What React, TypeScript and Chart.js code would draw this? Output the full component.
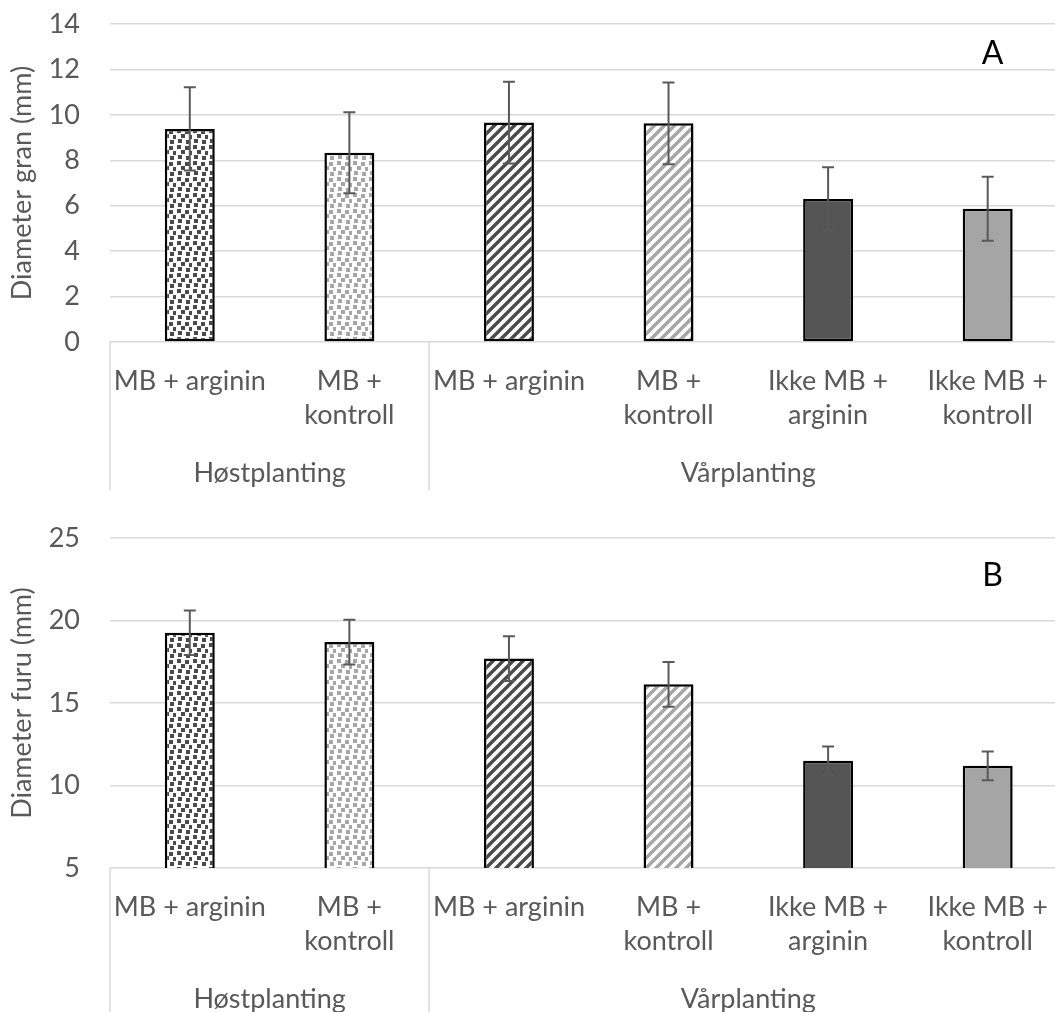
import React, { useEffect, useRef } from "react";
import { Chart, registerables } from "chart.js";

Chart.register(...registerables);

// ---- data ----
const categories: string[][] = [
  ["MB + arginin"],
  ["MB +", "kontroll"],
  ["MB + arginin"],
  ["MB +", "kontroll"],
  ["Ikke MB +", "arginin"],
  ["Ikke MB +", "kontroll"],
];
const groupLabels = ["Høstplanting", "Vårplanting"];
const groupSizes = [2, 4];

const granMeans = [9.38, 8.33, 9.66, 9.63, 6.3, 5.87];
const granErrors = [1.83, 1.78, 1.8, 1.8, 1.39, 1.41];
const granTicks = { min: 0, max: 14, step: 2 };

const furuMeans = [19.26, 18.69, 17.69, 16.13, 11.5, 11.19];
const furuErrors = [1.35, 1.36, 1.35, 1.35, 0.86, 0.87];
const furuTicks = { min: 5, max: 25, step: 5 };

// ---- styles ----
const FONT_FAMILY = "Lato, 'Open Sans', sans-serif";
const FONT_SIZE = 27;
const TEXT_COLOR = "#595959";
const GRID_COLOR = "#d9d9d9";

const confettiDots: [number, number][] = [
  [1, 1], [9, 2], [5, 6], [13, 7], [2, 11], [10, 12],
];

function makeConfetti(ctx: CanvasRenderingContext2D, color: string) {
  const c = document.createElement("canvas");
  c.width = 16;
  c.height = 16;
  const g = c.getContext("2d")!;
  g.fillStyle = "#ffffff";
  g.fillRect(0, 0, 16, 16);
  g.fillStyle = color;
  for (const [x, y] of confettiDots) g.fillRect(x, y, 4, 4);
  return ctx.createPattern(c, "repeat")!;
}

function makeStripes(ctx: CanvasRenderingContext2D, color: string) {
  const s = 10;
  const c = document.createElement("canvas");
  c.width = s;
  c.height = s;
  const g = c.getContext("2d")!;
  g.fillStyle = "#ffffff";
  g.fillRect(0, 0, s, s);
  g.strokeStyle = color;
  g.lineWidth = 3.4;
  g.beginPath();
  g.moveTo(-2, s + 2);
  g.lineTo(s + 2, -2);
  g.moveTo(-2, 2);
  g.lineTo(2, -2);
  g.moveTo(s - 2, s + 2);
  g.lineTo(s + 2, s - 2);
  g.stroke();
  return ctx.createPattern(c, "repeat")!;
}

const errorBarPlugin = {
  id: "errorBars",
  afterDatasetsDraw(chart: any, _args: any, opts: any) {
    const errors: number[] = opts.errors || [];
    const y = chart.scales.y;
    const meta = chart.getDatasetMeta(0);
    const ds = chart.data.datasets[0];
    const ctx = chart.ctx;
    ctx.save();
    ctx.strokeStyle = "#595959";
    ctx.lineWidth = 2;
    meta.data.forEach((bar: any, i: number) => {
      const v = ds.data[i] as number;
      const e = errors[i];
      const top = y.getPixelForValue(v + e);
      const bot = y.getPixelForValue(v - e);
      const x = bar.x;
      ctx.beginPath();
      ctx.moveTo(x, top);
      ctx.lineTo(x, bot);
      ctx.moveTo(x - 6, top);
      ctx.lineTo(x + 6, top);
      ctx.moveTo(x - 6, bot);
      ctx.lineTo(x + 6, bot);
      ctx.stroke();
    });
    ctx.restore();
  },
};

const groupAxisPlugin = {
  id: "groupAxis",
  afterDraw(chart: any, _args: any, opts: any) {
    const xs = chart.scales.x;
    const ctx = chart.ctx;
    const depth = opts.depth as number;
    const labelOffset = opts.labelOffset as number;
    const n = chart.data.labels.length;
    const half = n > 1 ? (xs.getPixelForValue(1) - xs.getPixelForValue(0)) / 2 : 0;
    const boundary = (idx: number) =>
      idx <= 0 ? xs.getPixelForValue(0) - half : xs.getPixelForValue(idx - 1) + half;
    ctx.save();
    ctx.strokeStyle = GRID_COLOR;
    ctx.lineWidth = 1.5;
    let start = 0;
    const bounds: number[] = [boundary(0)];
    groupSizes.forEach((sz) => {
      start += sz;
      bounds.push(boundary(start));
    });
    for (let i = 0; i < bounds.length - 1; i++) {
      ctx.beginPath();
      ctx.moveTo(bounds[i], xs.top);
      ctx.lineTo(bounds[i], xs.top + depth);
      ctx.stroke();
    }
    ctx.fillStyle = TEXT_COLOR;
    ctx.font = `${FONT_SIZE}px ${FONT_FAMILY}`;
    ctx.textAlign = "center";
    ctx.textBaseline = "middle";
    groupLabels.forEach((g, i) => {
      const cx = (bounds[i] + bounds[i + 1]) / 2;
      ctx.fillText(g, cx, xs.top + labelOffset);
    });
    ctx.restore();
  },
};

const panelLabelPlugin = {
  id: "panelLabel",
  afterDraw(chart: any, _args: any, opts: any) {
    const ctx = chart.ctx;
    const a = chart.chartArea;
    ctx.save();
    ctx.fillStyle = "#000000";
    ctx.font = `32px ${FONT_FAMILY}`;
    ctx.textAlign = "center";
    ctx.textBaseline = "middle";
    ctx.fillText(opts.text, a.right - opts.dx, a.top + opts.dy);
    ctx.restore();
  },
};

type PanelProps = {
  means: number[];
  errors: number[];
  ticks: { min: number; max: number; step: number };
  title: string;
  letter: string;
  letterDy: number;
  axisHeight: number;
  top: number;
};

const W = 1070;
const H = 514;

function Panel(props: PanelProps) {
  const ref = useRef<HTMLCanvasElement | null>(null);
  useEffect(() => {
    let chart: Chart | null = null;
    let cancelled = false;
    const build = () => {
      if (cancelled || !ref.current) return;
      const ctx = ref.current.getContext("2d")!;
      const fills = [
        makeConfetti(ctx, "#4a4a4a"),
        makeConfetti(ctx, "#a6a6a6"),
        makeStripes(ctx, "#4a4a4a"),
        makeStripes(ctx, "#a6a6a6"),
        "#545454",
        "#a5a5a5",
      ];
      const font = { family: FONT_FAMILY, size: FONT_SIZE };
      chart = new Chart(ref.current, {
        type: "bar",
        data: {
          labels: categories as any,
          datasets: [
            {
              data: props.means,
              backgroundColor: fills as any,
              borderColor: "#000000",
              borderWidth: 2.5,
              borderSkipped: false,
              barPercentage: 0.313,
              categoryPercentage: 1,
            },
          ],
        },
        options: {
          animation: false,
          responsive: false,
          maintainAspectRatio: false,
          layout: { padding: { top: 24, right: 2, left: 0, bottom: 0 } },
          plugins: {
            legend: { display: false },
            tooltip: { enabled: false },
            errorBars: { errors: props.errors },
            groupAxis: { depth: 148, labelOffset: 131 },
            panelLabel: { text: props.letter, dx: 75, dy: props.letterDy },
          } as any,
          scales: {
            x: {
              grid: { display: false, drawTicks: false },
              border: { display: false },
              ticks: {
                autoSkip: false,
                maxRotation: 0,
                minRotation: 0,
                padding: 22,
                color: TEXT_COLOR,
                font: { ...font, lineHeight: 1.26 },
              },
              afterFit: (s: any) => {
                s.height = props.axisHeight;
              },
            },
            y: {
              min: props.ticks.min,
              max: props.ticks.max,
              ticks: {
                stepSize: props.ticks.step,
                padding: 30,
                color: TEXT_COLOR,
                font,
              },
              grid: { color: GRID_COLOR, lineWidth: 1.5, drawTicks: false },
              border: { display: false },
              title: {
                display: true,
                text: props.title,
                color: TEXT_COLOR,
                font,
                padding: { top: 6, bottom: 0 },
              },
              afterFit: (s: any) => {
                s.width = 110;
                s.paddingTop = 0;
                s.paddingBottom = 0;
              },
            },
          },
        } as any,
        plugins: [errorBarPlugin, groupAxisPlugin, panelLabelPlugin],
      });
    };
    const fontsApi = (document as any).fonts;
    if (fontsApi && fontsApi.load) {
      fontsApi.load(`${FONT_SIZE}px Lato`).then(build, build);
    } else {
      build();
    }
    return () => {
      cancelled = true;
      if (chart) chart.destroy();
    };
  }, []);
  return (
    <canvas
      ref={ref}
      width={W}
      height={H}
      style={{ position: "absolute", left: 0, top: props.top, width: W, height: H }}
    />
  );
}

export default function App() {
  return (
    <div
      style={{
        position: "absolute",
        left: 0,
        top: 0,
        width: 1055,
        height: 1012,
        overflow: "hidden",
        background: "#ffffff",
      }}
    >
      <Panel
        means={granMeans}
        errors={granErrors}
        ticks={granTicks}
        title="Diameter gran (mm)"
        letter="A"
        letterDy={30}
        axisHeight={172}
        top={0}
      />
      <Panel
        means={furuMeans}
        errors={furuErrors}
        ticks={furuTicks}
        title="Diameter furu (mm)"
        letter="B"
        letterDy={38}
        axisHeight={160}
        top={514}
      />
    </div>
  );
}
